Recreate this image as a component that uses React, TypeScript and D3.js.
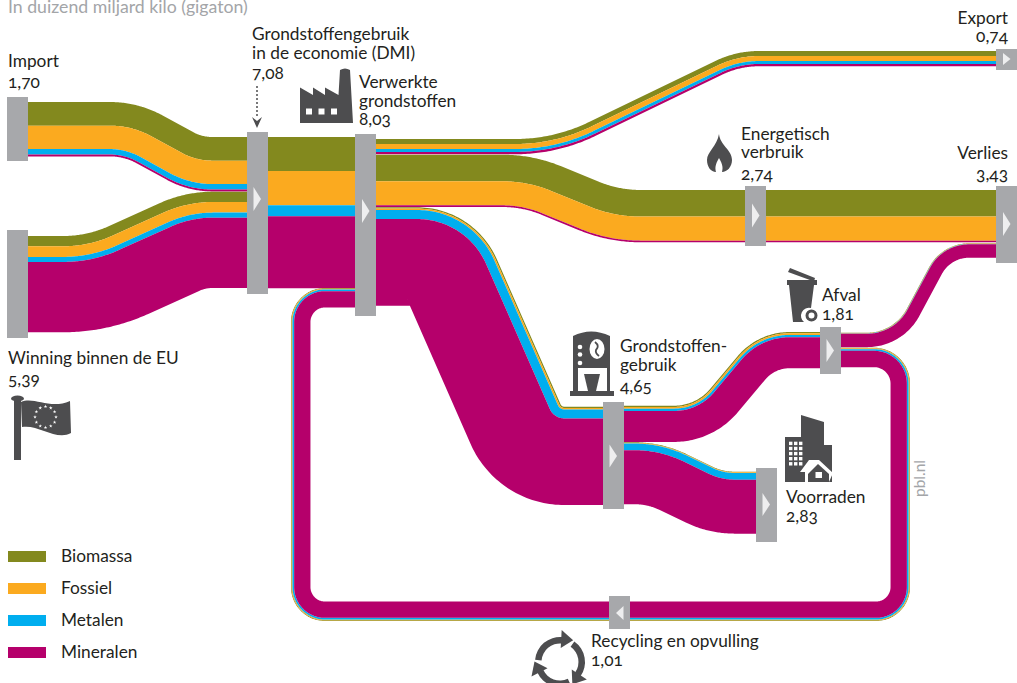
import React from 'react';
import * as d3 from 'd3';

// materialen, van boven naar onder in elke stroom
const materials = ['Biomassa', 'Fossiel', 'Metalen', 'Mineralen'];
const materialColors = ['#83891e', '#fbaa1f', '#00aeef', '#b5006b'];

// gigaton per materiaal
const importFlow = [1.13, 1.12, 0.26, 0.09];
const winningFlow = [0.49, 0.51, 0.24, 3.36];
const dmiFlow = [1.63, 1.63, 0.53, 3.44];
const exportFlow = [0.24, 0.24, 0.14, 0.11];
const energyFlow = [1.27, 1.15, 0, 0.08];
const useFlow = [0.06, 0.07, 0.43, 4.14];
const afvalInFlow = [0.06, 0.08, 0.11, 1.48];
const verliesFlow = [0.02, 0.015, 0.015, 0.64];
const recyclingFlow = [0.03, 0.04, 0.08, 0.78];
const voorradenFlow = [0.03, 0.03, 0.32, 2.58];

const thickness = d3.scaleLinear().domain([0, 8.03]).range([0, 168]);

const FONT = 'Lato, "Noto Sans", sans-serif';
const GREY = '#a7a8ab';
const ICON = '#4d4d4f';
const INK = '#231f20';

type V = [number, number, number?];
type S = { x: number; y: number; nx: number; ny: number };

// rounds the corners of a polyline, keeps the normal for every sample
function sampleGuide(vs: V[]): S[] {
  const out: S[] = [];
  const unit = (a: V, b: V) => {
    const l = Math.hypot(b[0] - a[0], b[1] - a[1]);
    return [(b[0] - a[0]) / l, (b[1] - a[1]) / l];
  };
  const first = unit(vs[0], vs[1]);
  out.push({ x: vs[0][0], y: vs[0][1], nx: -first[1], ny: first[0] });
  for (let i = 1; i < vs.length - 1; i++) {
    const p = vs[i];
    const u1 = unit(vs[i - 1], p);
    const u2 = unit(p, vs[i + 1]);
    const r = p[2] || 0;
    const cross = u1[0] * u2[1] - u1[1] * u2[0];
    const sign = cross > 0 ? 1 : -1;
    const theta = Math.acos(Math.max(-1, Math.min(1, u1[0] * u2[0] + u1[1] * u2[1])));
    const t = r * Math.tan(theta / 2);
    const cx = p[0] - u1[0] * t + sign * -u1[1] * r;
    const cy = p[1] - u1[1] * t + sign * u1[0] * r;
    const a0 = Math.atan2(u1[1], u1[0]);
    const n = 40;
    for (let k = 0; k <= n; k++) {
      const a = a0 + (sign * theta * k) / n;
      const nx = -Math.sin(a);
      const ny = Math.cos(a);
      out.push({ x: cx - sign * nx * r, y: cy - sign * ny * r, nx, ny });
    }
  }
  const last = unit(vs[vs.length - 2], vs[vs.length - 1]);
  const e = vs[vs.length - 1];
  out.push({ x: e[0], y: e[1], nx: -last[1], ny: last[0] });
  return out;
}

// routes follow the top edge of each ribbon
const flows: { values: number[]; route: V[] }[] = [
  { values: importFlow, route: [[27, 102], [138, 102, 110], [202, 137, 40], [248, 137]] },
  { values: winningFlow, route: [[27, 236], [87, 236, 110], [185, 191.7, 130], [248, 191.7]] },
  { values: dmiFlow, route: [[267, 137], [356, 137]] },
  { values: exportFlow, route: [[375, 139], [554, 139, 170], [736, 51, 100], [997, 51]] },
  { values: energyFlow, route: [[375, 154.7], [533, 154.7, 155], [619, 190, 110], [997, 190]] },
  { values: useFlow, route: [[375, 207.3], [474, 207.3, 87], [561.6, 406.7, 4], [604, 406.7]] },
  { values: afvalInFlow, route: [[623, 405.7], [696, 405.7, 47], [758, 332, 68], [821, 332]] },
  { values: verliesFlow, route: [[840, 332.7], [894, 332.7, 45], [942, 243.3, 45], [997, 243.3]] },
  { values: recyclingFlow, route: [[840, 347.7], [910, 347.7, 36], [910, 621, 34], [291, 621, 34], [291, 288, 34], [356, 288]] },
  { values: voorradenFlow, route: [[623, 442.3], [662, 442.3, 120], [723, 471.7, 50], [757, 471.7]] },
];

const nodes = [
  { x: 7, y0: 97, y1: 161 },
  { x: 7, y0: 230, y1: 338 },
  { x: 247, y0: 132, y1: 294 },
  { x: 355, y0: 134, y1: 316 },
  { x: 745, y0: 186, y1: 246 },
  { x: 996, y0: 49, y1: 70 },
  { x: 996, y0: 186, y1: 263 },
  { x: 603, y0: 402, y1: 509 },
  { x: 756, y0: 468, y1: 542 },
  { x: 820, y0: 327, y1: 374 },
  { x: 609, y0: 596, y1: 629 },
];

// wit pijltje in de knopen: [x, midden y, halve hoogte, richting]
const arrows = [
  [253.5, 199, 12, 1],
  [362, 211, 12, 1],
  [752, 215.5, 12, 1],
  [1003, 59, 6, 1],
  [1003, 224, 12, 1],
  [609.5, 456, 11.5, 1],
  [762.5, 504.5, 11.5, 1],
  [826.5, 350.5, 11.5, 1],
  [623.5, 613, 7, -1],
];

const labels: { x: number; y: number; t: string; end?: boolean }[] = [
  { x: 8, y: 67, t: 'Import' },
  { x: 8, y: 88, t: '1,70' },
  { x: 252, y: 40, t: 'Grondstoffengebruik' },
  { x: 252, y: 59, t: 'in de economie (DMI)' },
  { x: 252, y: 79, t: '7,08' },
  { x: 359, y: 88, t: 'Verwerkte' },
  { x: 359, y: 107, t: 'grondstoffen' },
  { x: 359, y: 125, t: '8,03' },
  { x: 1008, y: 24, t: 'Export', end: true },
  { x: 1008, y: 42, t: '0,74', end: true },
  { x: 741, y: 140, t: 'Energetisch' },
  { x: 741, y: 158, t: 'verbruik' },
  { x: 741, y: 180, t: '2,74' },
  { x: 1008, y: 159, t: 'Verlies', end: true },
  { x: 1008, y: 180, t: '3,43', end: true },
  { x: 822, y: 301, t: 'Afval' },
  { x: 822, y: 320, t: '1,81' },
  { x: 620, y: 352, t: 'Grondstoffen-' },
  { x: 620, y: 371, t: 'gebruik' },
  { x: 620, y: 392, t: '4,65' },
  { x: 786, y: 503, t: 'Voorraden' },
  { x: 786, y: 522, t: '2,83' },
  { x: 591, y: 647, t: 'Recycling en opvulling' },
  { x: 591, y: 666, t: '1,01' },
  { x: 8, y: 364, t: 'Winning binnen de EU' },
  { x: 8, y: 385, t: '5,39' },
];

function Ribbon({ values, route }: { values: number[]; route: V[] }) {
  const samples = sampleGuide(route);
  let offset = 0;
  return (
    <g>
      {values.map((v, i) => {
        const a = offset;
        const b = offset + thickness(v);
        offset = b;
        if (v === 0) return null;
        const area = d3
          .area<S>()
          .x0((d) => d.x + d.nx * a)
          .y0((d) => d.y + d.ny * a)
          .x1((d) => d.x + d.nx * b)
          .y1((d) => d.y + d.ny * b);
        return <path key={materials[i]} d={area(samples) || ''} fill={materialColors[i]} />;
      })}
    </g>
  );
}

function Factory() {
  return (
    <path
      fill={ICON}
      fillRule="evenodd"
      d="M300 87.5L313 95V87.5L325 95V87.5L338.5 95L340 70Q345 67 350 70L353 123H300Z
         M306 108.5V114.5H312V108.5Z M318.5 108.5V114.5H324.5V108.5Z M331 108.5V114.5H337V108.5Z"
    />
  );
}

function Flame() {
  return (
    <path
      fill={ICON}
      d="M719 134C720 145 732 150 732 160C732 167 727 172 722 172C723 168 723 165 719 158C715 165 715 168 716 172C711 172 707 167 707 160C707 152 717 146 719 134Z"
    />
  );
}

function Bin() {
  return (
    <g fill={ICON}>
      <path d="M790 268L815 278L814 281.5L788 272Z" />
      <path d="M787 280H817V285H814L811 308A8 8 0 0 0 804 322H793L789 285H787Z" />
      <circle cx="811.5" cy="315.5" r="4.5" fill="none" stroke={ICON} strokeWidth="3" />
    </g>
  );
}

function Coffee() {
  return (
    <g>
      <path fill={ICON} d="M573 336Q591 327 610 336V391H614V396H570V391H573Z" />
      <ellipse cx={597} cy={349} rx={7.5} ry={10} fill="#fff" />
      <path d="M595 342Q600 346 596 350Q595 353 599 356" fill="none" stroke={ICON} strokeWidth="1.8" />
      <circle cx={580} cy={347} r={2.3} fill="#fff" />
      <circle cx={580} cy={354.5} r={2.3} fill="#fff" />
      <circle cx={580} cy={363} r={2.3} fill="#fff" />
      <rect x={578} y={368} width={29} height={23} fill="#fff" />
      <path d="M584 374H600L596 391H588Z" fill={ICON} />
    </g>
  );
}

function Buildings() {
  const cells = d3.range(5).flatMap((r) => d3.range(3).map((c) => [789 + c * 5, 441.7 + r * 5.1]));
  return (
    <g>
      <path fill={ICON} d="M801 415L824 422V445H832V482H801Z" />
      <path fill={ICON} d="M785 437H808V459L801 470V482H785Z" />
      {cells.map(([x, y]) => (
        <rect key={`${x}-${y}`} x={x} y={y} width={3.4} height={3.4} fill="#fff" />
      ))}
      <path fill="#fff" d="M800 472L809 460H819L833 473L829 482H826V474L818 466L808 475V482H805V472Z" />
      <path fill={ICON} d="M808 482V474L818 464L829 474V482Z" />
      <rect x={815.5} y={472} width={6.5} height={6} fill="#fff" />
    </g>
  );
}

function Recycle() {
  const arc = d3.arc();
  const toRad = Math.PI / 180;
  const polar = (deg: number, r: number) => [Math.sin(deg * toRad) * r, -Math.cos(deg * toRad) * r];
  const head = [polar(3, 14), polar(3, 32), polar(31, 25.5)];
  return (
    <g transform="translate(560,662)" fill={ICON}>
      {[0, 120, 240].map((rot) => (
        <g key={rot} transform={`rotate(${rot})`}>
          <path d={arc({ innerRadius: 18.5, outerRadius: 25, startAngle: -85 * toRad, endAngle: 5 * toRad }) || ''} />
          <path d={`M${head.join('L')}Z`} />
        </g>
      ))}
    </g>
  );
}

function Flag() {
  const star = d3.symbol().type(d3.symbolStar).size(4);
  return (
    <g>
      <rect x={14} y={399} width={7} height={61} fill={ICON} />
      <ellipse cx={17.5} cy={398.5} rx={6.5} ry={3} fill={ICON} />
      <path fill={ICON} d="M21 402C34 396 50 410 70 401L71 433C56 441 38 424 22 427Z" />
      {d3.range(12).map((i) => (
        <path
          key={i}
          d={star() || ''}
          fill="#fff"
          transform={`translate(${45.5 + 10.5 * Math.sin((i * Math.PI) / 6)},${417 + 10.5 * Math.cos((i * Math.PI) / 6)})`}
        />
      ))}
    </g>
  );
}

export default function App() {
  return (
    <svg
      width={1017}
      height={683}
      viewBox="0 0 1017 683"
      style={{ position: 'absolute', left: 0, top: 0, display: 'block', background: '#fff' }}
      fontFamily={FONT}
    >
      <text x={8} y={13} fontSize={17.7} fill="#a3a5a8">
        In duizend miljard kilo (gigaton)
      </text>

      {flows.map((f, i) => (
        <Ribbon key={i} values={f.values} route={f.route} />
      ))}

      {nodes.map((n, i) => (
        <rect key={i} x={n.x} y={n.y0} width={21} height={n.y1 - n.y0} fill={GREY} />
      ))}
      {arrows.map(([x, y, h, dir], i) => (
        <path key={i} d={`M${x} ${y - h}L${x + 7.5 * dir} ${y}L${x} ${y + h}Z`} fill="#eeeeef" />
      ))}

      <Factory />
      <Flame />
      <Bin />
      <Coffee />
      <Buildings />
      <Recycle />
      <Flag />

      {/* gestippelde pijl naar DMI */}
      <line x1={257} y1={86} x2={257} y2={118} stroke={ICON} strokeWidth={1.5} strokeDasharray="2 2" />
      <path d="M252 117L257 121L262 117L257 128Z" fill={ICON} />

      <g fontSize={17.3} fill={INK} style={{ fontVariantNumeric: 'oldstyle-nums' }}>
        {labels.map((l) => (
          <text key={l.t} x={l.x} y={l.y} textAnchor={l.end ? 'end' : 'start'}>
            {l.t}
          </text>
        ))}
        {materials.map((m, i) => (
          <text key={m} x={61} y={562 + i * 32}>
            {m}
          </text>
        ))}
      </g>
      {materials.map((m, i) => (
        <rect key={m} x={8} y={551 + i * 32} width={38} height={11} fill={materialColors[i]} />
      ))}

      <text transform="translate(925,497) rotate(-90)" fontSize={15.5} fill="#a3a5a8">
        pbl.nl
      </text>
    </svg>
  );
}
